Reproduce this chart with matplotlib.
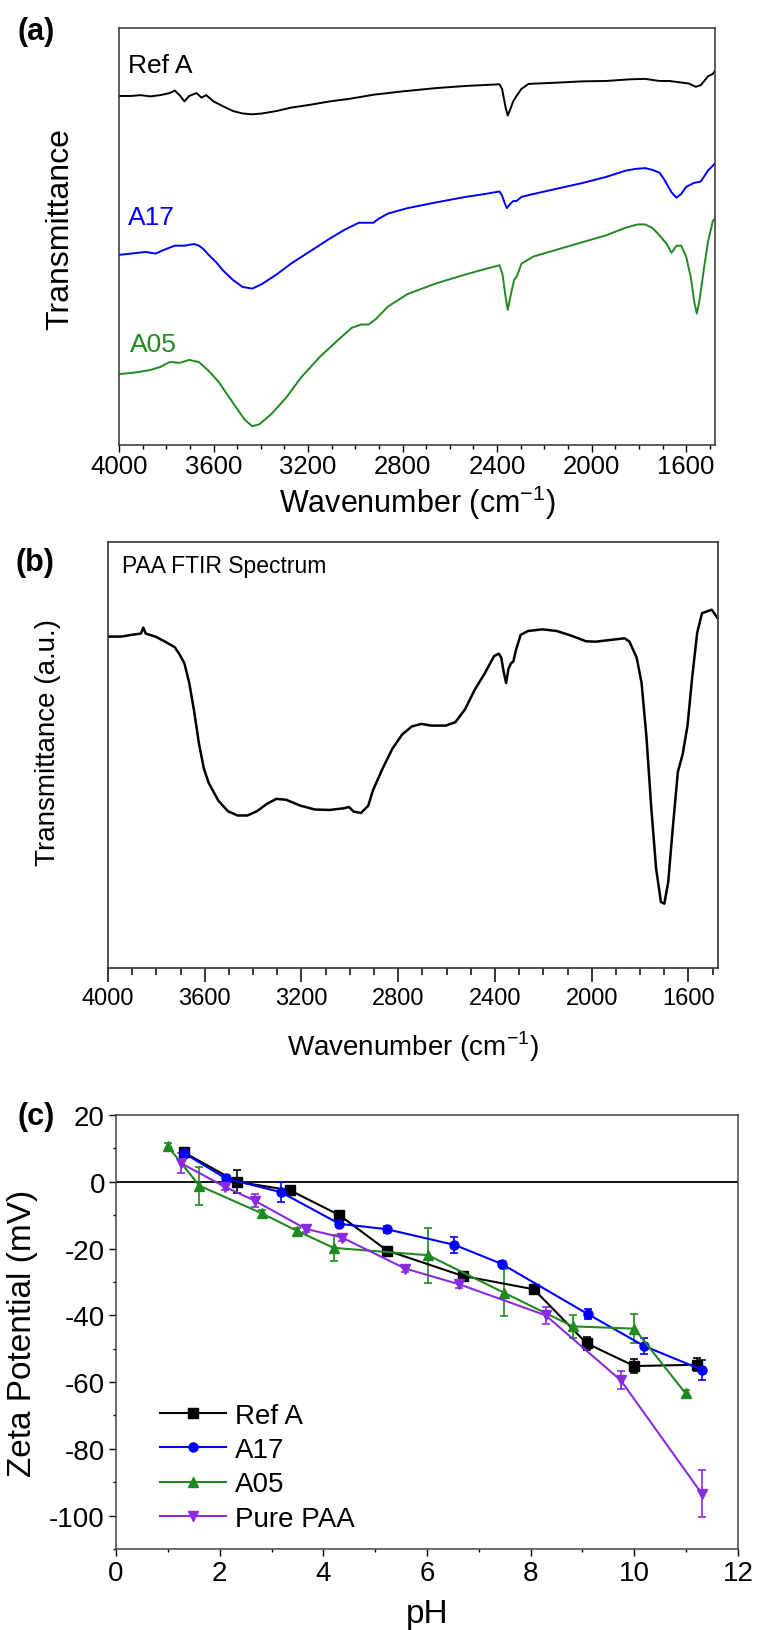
import matplotlib
matplotlib.use("Agg")
import matplotlib.pyplot as plt
from matplotlib.ticker import MultipleLocator
from matplotlib.lines import Line2D

plt.rcParams['font.family'] = ['Liberation Sans', 'DejaVu Sans']
plt.rcParams['mathtext.fontset'] = 'custom'
plt.rcParams['mathtext.rm'] = 'Liberation Sans'
plt.rcParams['axes.unicode_minus'] = False

# ---- panel (a): FTIR of the three samples (arbitrary transmittance units)
refa_wn = [4000, 3949, 3908, 3867, 3826, 3785, 3764, 3744, 3723, 3703, 3672, 3651,
           3631, 3600, 3559, 3518, 3477, 3436, 3395, 3333, 3272, 3190, 3108, 3026,
           2923, 2800, 2656, 2533, 2390, 2379, 2365, 2355, 2343, 2332, 2318, 2297,
           2267, 2144, 2041, 1938, 1836, 1774, 1713, 1672, 1631, 1590, 1559, 1538,
           1508, 1487, 1478]
refa_t = [83.7, 83.7, 83.9, 83.6, 83.9, 84.4, 85.0, 83.9, 82.4, 83.7, 84.4, 83.3,
          83.9, 82.4, 81.2, 80.1, 79.5, 79.3, 79.5, 80.1, 80.9, 81.6, 82.4, 83.0,
          84.0, 84.8, 85.6, 86.1, 86.5, 85.4, 81.2, 79.0, 80.7, 82.4, 83.7, 85.4,
          86.6, 86.9, 87.2, 87.3, 87.7, 87.8, 87.3, 87.3, 87.0, 86.7, 85.9, 86.3,
          88.4, 89.0, 89.7]

a17_wn = [4000, 3949, 3887, 3846, 3805, 3764, 3723, 3682, 3662, 3641, 3621, 3590,
          3559, 3518, 3477, 3436, 3395, 3333, 3272, 3190, 3108, 3046, 2985, 2923,
          2903, 2862, 2779, 2656, 2533, 2451, 2390, 2379, 2369, 2359, 2345, 2332,
          2318, 2297, 2246, 2144, 2041, 1938, 1856, 1815, 1774, 1744, 1713, 1692,
          1662, 1641, 1621, 1600, 1569, 1538, 1508, 1478]
a17_t = [45.6, 45.9, 46.3, 45.9, 46.9, 47.8, 47.8, 48.2, 47.8, 46.9, 45.6, 43.9,
         41.8, 39.6, 37.9, 37.5, 38.6, 40.9, 43.5, 46.5, 49.5, 51.6, 53.3, 53.3,
         54.2, 55.5, 56.8, 58.2, 59.5, 60.2, 60.8, 59.8, 58.2, 56.8, 57.8, 58.5,
         58.5, 59.5, 60.2, 61.5, 62.8, 64.3, 65.8, 66.2, 66.4, 66.0, 65.3, 63.6,
         60.6, 59.3, 60.2, 61.9, 62.8, 63.2, 65.8, 67.5]

a05_wn = [4000, 3928, 3867, 3826, 3785, 3744, 3703, 3662, 3621, 3579, 3538, 3497,
          3467, 3436, 3405, 3354, 3292, 3231, 3149, 3067, 3015, 2974, 2944, 2913,
          2862, 2779, 2656, 2533, 2451, 2390, 2377, 2365, 2355, 2343, 2328, 2316,
          2297, 2246, 2144, 2041, 1938, 1856, 1805, 1774, 1744, 1713, 1682, 1662,
          1641, 1621, 1600, 1580, 1565, 1555, 1543, 1524, 1508, 1487, 1478]
a05_t = [17.0, 17.4, 18.0, 18.7, 19.9, 19.7, 20.4, 19.9, 17.8, 15.2, 11.8, 8.4,
         6.0, 4.5, 5.0, 7.5, 11.4, 16.1, 21.2, 25.5, 28.1, 28.9, 28.9, 30.2,
         33.2, 36.2, 38.8, 40.9, 42.2, 43.1, 40.9, 35.8, 32.4, 35.8, 39.6, 40.5,
         43.5, 45.2, 46.9, 48.6, 50.3, 52.1, 52.9, 52.9, 52.1, 50.3, 48.2, 46.1,
         47.8, 47.8, 45.2, 40.1, 34.1, 31.5, 34.9, 42.6, 48.6, 53.8, 54.2]

# ---- panel (b): PAA spectrum
paa_wn = [4000, 3944, 3904, 3864, 3854, 3844, 3804, 3764, 3724, 3704, 3684, 3664,
          3644, 3624, 3604, 3584, 3544, 3504, 3464, 3424, 3384, 3344, 3304, 3264,
          3204, 3144, 3084, 3024, 3004, 2984, 2954, 2924, 2904, 2864, 2824, 2784,
          2744, 2704, 2664, 2604, 2564, 2524, 2484, 2444, 2404, 2384, 2374, 2364,
          2354, 2344, 2334, 2324, 2314, 2294, 2264, 2204, 2144, 2084, 2024, 1984,
          1924, 1864, 1844, 1814, 1794, 1774, 1754, 1734, 1714, 1700, 1684, 1664,
          1644, 1624, 1604, 1584, 1564, 1544, 1524, 1504, 1478]
paa_t = [77.8, 77.8, 78.2, 78.5, 79.9, 78.5, 77.8, 76.6, 75.3, 73.6, 71.5, 66.9,
         60.3, 52.7, 46.9, 43.5, 39.3, 36.8, 35.8, 35.8, 36.8, 38.5, 39.7, 39.5,
         38.1, 37.2, 37.1, 37.5, 37.8, 36.7, 36.4, 38.1, 41.8, 46.9, 51.5, 54.8,
         56.7, 57.3, 56.9, 56.9, 57.7, 60.7, 65.3, 69.0, 73.2, 73.8, 72.8, 69.5,
         66.9, 70.3, 71.5, 72.0, 74.5, 78.2, 79.1, 79.5, 79.1, 78.0, 76.7, 76.6,
         77.0, 77.4, 76.6, 72.8, 66.9, 54.4, 37.7, 23.4, 15.5, 15.1, 20.1, 33.5,
         46.0, 50.2, 56.9, 68.6, 78.7, 83.3, 83.7, 84.1, 82.0]

# ---- panel (c): zeta potential vs pH
refa_ph = [1.31, 2.33, 3.35, 4.31, 5.23, 6.69, 8.06, 9.08, 10.0, 11.21]
refa_z = [8.8, 0.0, -2.5, -10.0, -20.6, -28.2, -32.2, -48.4, -55.2, -54.8]
refa_err = [1.2, 3.4, 1.0, 1.0, 1.0, 1.0, 1.0, 2.0, 2.0, 2.0]

a17_ph = [1.31, 2.12, 3.18, 4.31, 5.22, 6.53, 7.44, 9.11, 10.19, 11.3]
a17_z = [8.6, 1.0, -3.1, -12.6, -14.2, -18.9, -24.6, -39.7, -49.2, -56.3]
a17_err = [1.5, 1.0, 3.0, 1.0, 1.0, 2.5, 1.0, 1.5, 2.5, 3.0]

a05_ph = [1.0, 1.61, 2.82, 3.49, 4.2, 6.02, 7.48, 8.81, 10.0, 10.99]
a05_z = [10.6, -1.2, -9.5, -14.7, -19.8, -22.0, -33.2, -43.3, -44.0, -63.4]
a05_err = [1.0, 5.7, 1.0, 1.0, 4.0, 8.2, 7.0, 3.5, 4.3, 1.0]

paa_ph = [1.26, 2.1, 2.68, 3.66, 4.36, 5.58, 6.62, 8.29, 9.74, 11.3]
paa_z = [5.5, -1.5, -5.7, -14.1, -16.7, -26.0, -30.7, -40.0, -59.5, -93.4]
paa_err = [3.0, 1.0, 2.0, 1.0, 1.0, 1.0, 1.0, 2.5, 2.7, 7.0]

c_black = 'black'
c_blue = '#0000ff'
c_green = '#1f8a1f'
c_violet = '#8a2be2'

W, H = 759, 1631
fig = plt.figure(figsize=(W / 100, H / 100), dpi=100)


def frac(x, y):
    return x / W, 1 - y / H


def box(left, top, right, bottom):
    return [left / W, 1 - bottom / H, (right - left) / W, (bottom - top) / H]


# ================= (a) =================
ax1 = fig.add_axes(box(119, 29, 715, 446))
ax1.plot(refa_wn, refa_t, color=c_black, lw=1.4)
ax1.plot(a17_wn, a17_t, color=c_blue, lw=1.4)
ax1.plot(a05_wn, a05_t, color=c_green, lw=1.4)
ax1.set_xlim(4000, 1478)
ax1.set_ylim(0, 100)
ax1.set_yticks([])
ax1.set_xticks([4000, 3600, 3200, 2800, 2400, 2000, 1600])
ax1.xaxis.set_minor_locator(MultipleLocator(100))
ax1.tick_params(axis='x', which='major', direction='out', length=5, width=1,
                labelsize=18.5, pad=1.5)
ax1.tick_params(axis='x', which='minor', direction='out', length=2.7, width=1)
for s in ax1.spines.values():
    s.set_linewidth(1.1)
    s.set_color('#333333')
ax1.text(0.015, 0.911, 'Ref A', transform=ax1.transAxes, fontsize=19,
         color=c_black, va='center', ha='left')
ax1.text(0.015, 0.547, 'A17', transform=ax1.transAxes, fontsize=19,
         color=c_blue, va='center', ha='left')
ax1.text(0.018, 0.242, 'A05', transform=ax1.transAxes, fontsize=19,
         color=c_green, va='center', ha='left')
fig.text(*frac(36, 32), '(a)', fontsize=22, fontweight='bold', ha='center', va='center')
fig.text(*frac(60, 229), 'Transmittance', fontsize=23, rotation=90,
         ha='center', va='center')
fig.text(*frac(417, 503), 'Wavenumber (cm$^{-1}$)', fontsize=22,
         ha='center', va='center')

# ================= (b) =================
ax2 = fig.add_axes(box(108, 543, 718, 969))
ax2.plot(paa_wn, paa_t, color=c_black, lw=1.8)
ax2.set_xlim(4000, 1478)
ax2.set_ylim(0, 100)
ax2.set_yticks([])
ax2.set_xticks([4000, 3600, 3200, 2800, 2400, 2000, 1600])
ax2.xaxis.set_minor_locator(MultipleLocator(100))
ax2.tick_params(axis='x', which='major', direction='out', length=10, width=1.1,
                labelsize=17, pad=4)
ax2.tick_params(axis='x', which='minor', direction='out', length=5, width=1.1)
for s in ax2.spines.values():
    s.set_linewidth(1.2)
    s.set_color('#333333')
ax2.text(0.023, 0.944, 'PAA FTIR Spectrum', transform=ax2.transAxes,
         fontsize=16.5, va='center', ha='left')
fig.text(*frac(35, 563), '(b)', fontsize=22, fontweight='bold', ha='center', va='center')
fig.text(*frac(48, 743), 'Transmittance (a.u.)', fontsize=20, rotation=90,
         ha='center', va='center')
fig.text(*frac(413, 1047), 'Wavenumber (cm$^{-1}$)', fontsize=20,
         ha='center', va='center')

# ================= (c) =================
ax3 = fig.add_axes(box(116, 1116, 738, 1550))
ax3.axhline(0, color='black', lw=1.3, zorder=1)
ekw = dict(lw=1.5, ms=6.5, capsize=3, elinewidth=1.2, capthick=1.2)
series = [
    (refa_ph, refa_z, refa_err, 's', c_black, 'Ref A'),
    (a17_ph, a17_z, a17_err, 'o', c_blue, 'A17'),
    (a05_ph, a05_z, a05_err, '^', c_green, 'A05'),
    (paa_ph, paa_z, paa_err, 'v', c_violet, 'Pure PAA'),
]
handles = []
for ph, z, err, mk, col, lab in series:
    ax3.errorbar(ph, z, yerr=err, fmt='-' + mk, color=col, **ekw)
    handles.append(Line2D([], [], color=col, marker=mk, lw=1.5, ms=6.5, label=lab))
ax3.set_xlim(0, 12)
ax3.set_ylim(-110, 20)
ax3.set_xticks(range(0, 13, 2))
ax3.set_yticks(range(-100, 21, 20))
ax3.xaxis.set_minor_locator(MultipleLocator(1))
ax3.yaxis.set_minor_locator(MultipleLocator(10))
ax3.tick_params(which='major', direction='out', length=5, width=1,
                labelsize=20, pad=3, top=False, right=False)
ax3.tick_params(which='minor', direction='out', length=2.5, width=1,
                top=False, right=False)
for s in ax3.spines.values():
    s.set_linewidth(1.1)
    s.set_color('#444444')
ax3.legend(handles=handles, loc='lower left', bbox_to_anchor=(0.07, 0.04),
           frameon=False, fontsize=20, handlelength=2.4, handletextpad=0.3,
           labelspacing=0.3, borderpad=0, borderaxespad=0)
fig.text(*frac(36, 1117), '(c)', fontsize=22, fontweight='bold', ha='center', va='center')
fig.text(*frac(23, 1333), 'Zeta Potential (mV)', fontsize=24, rotation=90,
         ha='center', va='center')
fig.text(*frac(427, 1615), 'pH', fontsize=24, ha='center', va='center')

fig.savefig('out.png', dpi=100)
